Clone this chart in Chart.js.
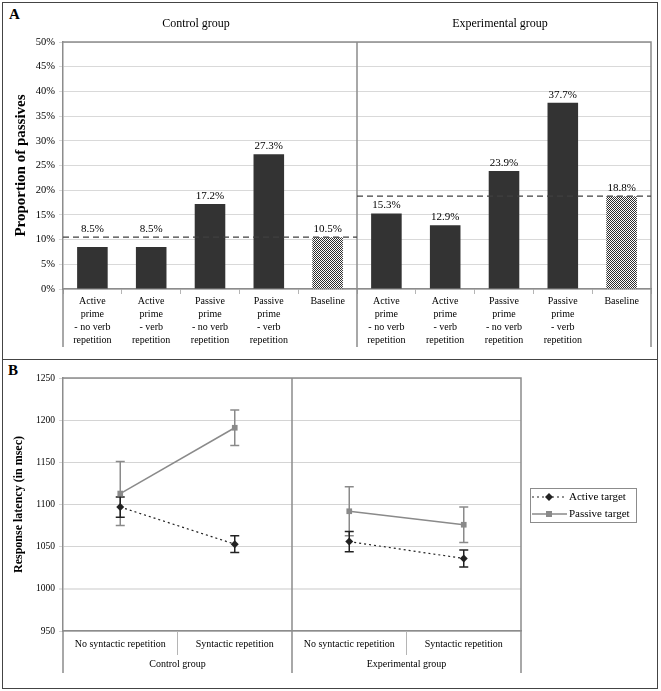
<!DOCTYPE html>
<html>
<head>
<meta charset="utf-8">
<script src="https://cdn.jsdelivr.net/npm/chart.js@4.4.0/dist/chart.umd.min.js"></script>
<style>
  body { margin: 0; background: #fff; width: 661px; height: 691px; position: relative; overflow: hidden; font-family: "Liberation Serif", serif; }
  .panel { position: absolute; left: 2px; width: 656px; border: 1.5px solid #444; box-sizing: border-box; }
  .letter { position: absolute; font-weight: bold; font-size: 15px; }
  canvas { position: absolute; left: 0; }
</style>
</head>
<body>
<div class="panel" style="top:2px;height:358px"></div>
<div class="panel" style="top:359px;height:330px"></div>
<div class="letter" style="left:9px;top:6px">A</div>
<div class="letter" style="left:8px;top:362px">B</div>
<canvas id="chartA" width="661" height="360" style="top:0"></canvas>
<canvas id="chartB" width="661" height="331" style="top:360px"></canvas>
<script>
// Panel A - proportion of passives
const conditions = [
    ['Active', 'prime', '- no verb', 'repetition'],
    ['Active', 'prime', '- verb', 'repetition'],
    ['Passive', 'prime', '- no verb', 'repetition'],
    ['Passive', 'prime', '- verb', 'repetition'],
    'Baseline'
];
const controlValues = [8.5, 8.5, 17.2, 27.3, 10.5];
const experimentalValues = [15.3, 12.9, 23.9, 37.7, 18.8];
const groups = ['Control group', 'Experimental group'];

// Panel B - response latency
const syntaxLabels = ['No syntactic repetition', 'Syntactic repetition'];
const activeLatency = [1097, 1053, 1056, 1036];
const activeError = [12, 10, 12, 10];
const passiveLatency = [1113, 1191, 1092, 1076];
const passiveError = [38, 21, 29, 21];

const serif = '"Liberation Serif", "Times New Roman", serif';
Chart.defaults.font.family = serif;
Chart.defaults.color = '#000';

// checkered fill for the baseline bars
const ctxA = document.getElementById('chartA').getContext('2d');
const tile = document.createElement('canvas');
tile.width = 2; tile.height = 2;
const t = tile.getContext('2d');
t.fillStyle = '#fff'; t.fillRect(0, 0, 2, 2);
t.fillStyle = '#2e2e2e'; t.fillRect(0, 0, 1, 1); t.fillRect(1, 1, 1, 1);
const checker = ctxA.createPattern(tile, 'repeat');

const barLabels = conditions.concat(conditions);
const barValues = controlValues.concat(experimentalValues);
const barColors = barLabels.map(l => l === 'Baseline' ? checker : '#333333');
const perGroupA = conditions.length;

const panelA = {
    id: 'panelA',
    afterDatasetsDraw(chart) {
        const { ctx, chartArea: a, scales: { x, y } } = chart;
        const mid = (x.getPixelForValue(perGroupA - 1) + x.getPixelForValue(perGroupA)) / 2;
        const low = a.bottom + 58;
        ctx.save();
        ctx.strokeStyle = '#8c8c8c';
        ctx.lineWidth = 1.5;
        ctx.beginPath();
        ctx.moveTo(a.left, a.bottom); ctx.lineTo(a.left, low);
        ctx.moveTo(a.left, a.top); ctx.lineTo(a.right, a.top); ctx.lineTo(a.right, low);
        ctx.moveTo(mid, a.top); ctx.lineTo(mid, low);
        ctx.stroke();

        // dashed baseline levels
        const baseCtl = y.getPixelForValue(controlValues[perGroupA - 1]);
        const baseExp = y.getPixelForValue(experimentalValues[perGroupA - 1]);
        ctx.setLineDash([6, 4]);
        ctx.strokeStyle = '#404040';
        ctx.lineWidth = 1.2;
        ctx.beginPath();
        ctx.moveTo(a.left, baseCtl); ctx.lineTo(mid, baseCtl);
        ctx.moveTo(mid, baseExp); ctx.lineTo(a.right, baseExp);
        ctx.stroke();
        ctx.setLineDash([]);

        // value labels
        ctx.fillStyle = '#000';
        ctx.font = '11px ' + serif;
        ctx.textAlign = 'center';
        ctx.textBaseline = 'alphabetic';
        chart.getDatasetMeta(0).data.forEach((bar, i) => {
            const line = i < perGroupA ? baseCtl : baseExp;
            let top = bar.y;
            if (top > line && top - line < 12) top = line;
            ctx.fillText(barValues[i].toFixed(1) + '%', bar.x, top - 5);
        });

        // titles
        ctx.font = '12px ' + serif;
        ctx.fillText(groups[0], 196, 27);
        ctx.fillText(groups[1], 500, 27);
        ctx.translate(21, (a.top + a.bottom) / 2);
        ctx.rotate(-Math.PI / 2);
        ctx.font = 'bold 15px ' + serif;
        ctx.textBaseline = 'middle';
        ctx.fillText('Proportion of passives', 0, 0);
        ctx.restore();
    }
};

new Chart(ctxA, {
    type: 'bar',
    data: {
        labels: barLabels,
        datasets: [{
            data: barValues,
            backgroundColor: barColors,
            barPercentage: 0.52,
            categoryPercentage: 1
        }]
    },
    options: {
        responsive: false,
        animation: false,
        devicePixelRatio: 1,
        layout: { padding: { top: 42, right: 10, left: 0, bottom: 0 } },
        plugins: { legend: { display: false }, tooltip: { enabled: false } },
        scales: {
            y: {
                min: 0,
                max: 50,
                afterFit: s => { s.width = 63; },
                ticks: { stepSize: 5, padding: 4, font: { size: 10.5 }, callback: v => v + '%' },
                grid: { color: '#d9d9d9', tickLength: 4 },
                border: { color: '#8c8c8c', width: 1.5 }
            },
            x: {
                afterFit: s => { s.height = 71; },
                ticks: { maxRotation: 0, autoSkip: false, padding: 1, font: { size: 10, lineHeight: 1.3 } },
                grid: { drawOnChartArea: false, tickLength: 5, color: '#b5b5b5' },
                border: { color: '#8c8c8c', width: 1.5 }
            }
        }
    },
    plugins: [panelA]
});

// Panel B
const latencyLabels = syntaxLabels.concat(syntaxLabels);
const perGroupB = syntaxLabels.length;
const activeColor = '#222222';
const passiveColor = '#8a8a8a';
const gap = c => (c.p0DataIndex + 1) % perGroupB === 0 ? 'rgba(0,0,0,0)' : undefined;

const panelB = {
    id: 'panelB',
    beforeDatasetsDraw(chart) {
        const { ctx, scales: { x, y } } = chart;
        const bars = [[passiveLatency, passiveError, passiveColor], [activeLatency, activeError, activeColor]];
        ctx.save();
        ctx.lineWidth = 1.5;
        bars.forEach(([vals, errs, col]) => {
            ctx.strokeStyle = col;
            vals.forEach((v, i) => {
                const px = x.getPixelForValue(i);
                const hi = y.getPixelForValue(v + errs[i]);
                const lo = y.getPixelForValue(v - errs[i]);
                ctx.beginPath();
                ctx.moveTo(px, hi); ctx.lineTo(px, lo);
                ctx.moveTo(px - 4.5, hi); ctx.lineTo(px + 4.5, hi);
                ctx.moveTo(px - 4.5, lo); ctx.lineTo(px + 4.5, lo);
                ctx.stroke();
            });
        });
        ctx.restore();
    },
    afterDraw(chart) {
        const { ctx, chartArea: a, scales: { x } } = chart;
        const low = a.bottom + 42;
        ctx.save();
        ctx.strokeStyle = '#8c8c8c';
        ctx.lineWidth = 1.5;
        ctx.beginPath();
        ctx.moveTo(a.left, a.bottom); ctx.lineTo(a.left, low);
        ctx.moveTo(a.left, a.top); ctx.lineTo(a.right, a.top); ctx.lineTo(a.right, low);
        for (let g = 1; g < groups.length; g++) {
            const m = (x.getPixelForValue(g * perGroupB - 1) + x.getPixelForValue(g * perGroupB)) / 2;
            ctx.moveTo(m, a.top); ctx.lineTo(m, low);
        }
        ctx.stroke();
        ctx.strokeStyle = '#b5b5b5';
        ctx.lineWidth = 1;
        ctx.beginPath();
        for (let g = 0; g < groups.length; g++) {
            for (let k = 1; k < perGroupB; k++) {
                const i = g * perGroupB + k;
                const m = (x.getPixelForValue(i - 1) + x.getPixelForValue(i)) / 2;
                ctx.moveTo(m, a.bottom); ctx.lineTo(m, a.bottom + 24);
            }
        }
        ctx.stroke();

        ctx.fillStyle = '#000';
        ctx.textAlign = 'center';
        ctx.textBaseline = 'middle';
        ctx.font = '10px ' + serif;
        groups.forEach((g, k) => {
            const first = x.getPixelForValue(k * perGroupB);
            const last = x.getPixelForValue((k + 1) * perGroupB - 1);
            ctx.fillText(g, (first + last) / 2, a.bottom + 33);
        });

        // legend box
        const lx = 530, ly = 128, lw = 106, lh = 34;
        ctx.strokeStyle = '#8c8c8c';
        ctx.lineWidth = 1;
        ctx.strokeRect(lx + 0.5, ly + 0.5, lw, lh);
        ctx.textAlign = 'left';
        ctx.font = '11px ' + serif;
        chart.data.datasets.forEach((ds, k) => {
            const ry = ly + 9 + k * 17;
            ctx.strokeStyle = ds.borderColor;
            ctx.lineWidth = ds.borderWidth;
            ctx.setLineDash(ds.borderDash || []);
            ctx.beginPath();
            ctx.moveTo(lx + 2, ry); ctx.lineTo(lx + 37, ry);
            ctx.stroke();
            ctx.setLineDash([]);
            ctx.fillStyle = ds.pointBackgroundColor;
            ctx.beginPath();
            if (ds.pointStyle === 'rect') {
                ctx.rect(lx + 16, ry - 3, 6, 6);
            } else {
                ctx.moveTo(lx + 19, ry - 4); ctx.lineTo(lx + 23, ry); ctx.lineTo(lx + 19, ry + 4); ctx.lineTo(lx + 15, ry);
            }
            ctx.fill();
            ctx.fillStyle = '#000';
            ctx.fillText(ds.label, lx + 39, ry);
        });

        ctx.translate(19, (a.top + a.bottom) / 2);
        ctx.rotate(-Math.PI / 2);
        ctx.textAlign = 'center';
        ctx.font = 'bold 12px ' + serif;
        ctx.fillText('Response latency (in msec)', 0, 0);
        ctx.restore();
    }
};

new Chart(document.getElementById('chartB'), {
    type: 'line',
    data: {
        labels: latencyLabels,
        datasets: [{
            label: 'Active target',
            data: activeLatency,
            borderColor: activeColor,
            borderWidth: 1.2,
            borderDash: [2, 3],
            pointStyle: 'rectRot',
            pointRadius: 4,
            pointBackgroundColor: activeColor,
            pointBorderWidth: 0,
            segment: { borderColor: gap }
        }, {
            label: 'Passive target',
            data: passiveLatency,
            borderColor: passiveColor,
            borderWidth: 1.5,
            pointStyle: 'rect',
            pointRadius: 4,
            pointBackgroundColor: passiveColor,
            pointBorderWidth: 0,
            segment: { borderColor: gap }
        }]
    },
    options: {
        responsive: false,
        animation: false,
        devicePixelRatio: 1,
        layout: { padding: { top: 18, right: 140, left: 0, bottom: 0 } },
        plugins: { legend: { display: false }, tooltip: { enabled: false } },
        scales: {
            y: {
                min: 950,
                max: 1250,
                afterFit: s => { s.width = 63; },
                ticks: { stepSize: 50, padding: 4, font: { size: 9.5 }, callback: v => String(v) },
                grid: {
                    color: c => c.tick && c.tick.value === 1000 ? '#e4e4e4' : '#d4d4d4',
                    lineWidth: c => c.tick && c.tick.value === 1000 ? 2 : 1,
                    tickLength: 4
                },
                border: { color: '#8c8c8c', width: 1.5 }
            },
            x: {
                offset: true,
                afterFit: s => { s.height = 60; },
                ticks: { maxRotation: 0, autoSkip: false, padding: 7, font: { size: 10 } },
                grid: { display: false, drawTicks: false },
                border: { color: '#8c8c8c', width: 1.5 }
            }
        }
    },
    plugins: [panelB]
});
</script>
</body>
</html>
